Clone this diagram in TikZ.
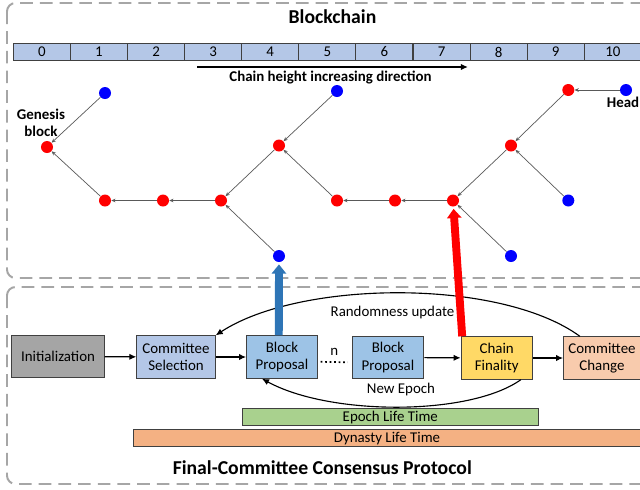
\documentclass[tikz,border=0pt]{standalone}
\usepackage{fontspec}
\setmainfont{Carlito}
\usepackage{tikz}
\usetikzlibrary{arrows.meta}

\definecolor{grau}{HTML}{A5A5A5}
\definecolor{hellblau}{HTML}{B4C7E7}
\definecolor{blau}{HTML}{9DC3E6}
\definecolor{gelb}{HTML}{FFD966}
\definecolor{lachs}{HTML}{F8CBAD}
\definecolor{gruen}{HTML}{A9D18E}
\definecolor{orange}{HTML}{F4B183}
\definecolor{pfeilblau}{HTML}{2E75B6}
\definecolor{randgrau}{HTML}{A6A6A6}
\definecolor{linie}{HTML}{404040}

\tikzset{
  rahmen/.style={draw=randgrau,line width=1.4pt,dash pattern=on 9pt off 5pt,rounded corners=6pt},
  zelle/.style={draw=linie,fill=hellblau,line width=0.8pt,minimum width=1.4275cm,minimum height=0.435cm,inner sep=0pt},
  punkt/.style={circle,fill=#1,inner sep=0pt,minimum size=0.3cm},
  kante/.style={draw=black!65,line width=0.5pt,-{Stealth[length=3pt,width=2.6pt]}},
  kasten/.style={draw=linie,fill=#1,line width=0.7pt,minimum height=1.06cm,inner sep=1pt,align=center,
                 font=\fontsize{10.6}{12.5}\selectfont},
  balken/.style={draw=linie,fill=#1,line width=0.7pt,minimum height=0.42cm,inner sep=0pt},
  pfeil/.style={black,line width=0.8pt,-{Latex[length=5pt,width=4.5pt]}},
  dick/.style={line width=5.6pt,shorten >=1.5pt,-{Triangle[length=6.5pt,width=10pt]}},
  titel/.style={font=\fontsize{14}{16}\selectfont\bfseries},
  fett/.style={font=\fontsize{10.6}{12.3}\selectfont\bfseries,align=center,inner sep=0pt}
}

\begin{document}
\begin{tikzpicture}[x=0.025cm,y=-0.025cm,font=\fontsize{10.6}{12.5}\selectfont]
  \clip (0,0) rectangle (640,489);

  % Rahmen
  \draw[rahmen] (7,3) rectangle (680,278);
  \draw[rahmen] (7,287) rectangle (680,484);
  \node[titel] (bctitel) at (332.5,17) {Blockchain};
  \node[titel] (prtitel) at (322.3,468) {Final-Committee Consensus Protocol};

  % Kettenhoehe
  \foreach \i in {0,...,10}
    \node[zelle] (z\i) at (41.85+57.1*\i,52) {\i};
  \coordinate (hs) at (197,67);
  \coordinate (he) at (468,67);
  \draw[pfeil,line width=1.1pt] (hs) -- (he);
  \node[fett] (hrtext) at (330.5,77.5) {Chain height increasing direction};

  % Bloecke
  \foreach \n/\x/\y/\c in {g/47/147/red, b1/105/93/blue, r1/105/200.5/red, r2/163/200.5/red,
      r3/221/200.5/red, r4/279/145.5/red, b2/337/91/blue, b3/279/256/blue, r5/337/200.5/red,
      r6/395/200.5/red, r7/453/200.5/red, r8/511/145.5/red, r9/568.3/90/red, b4/626/90/blue,
      b5/568.3/200.5/blue, b6/511/256/blue}
    \node[punkt=\c] (\n) at (\x,\y) {};
  \foreach \a/\b in {b1/g, r1/g, r2/r1, r3/r2, r4/r3, b3/r3, b2/r4, r5/r4, r6/r5, r7/r6,
      r8/r7, b6/r7, r9/r8, b5/r8, b4/r9}
    \draw[kante] (\a) -- (\b);
  \node[fett] (genlabel) at (41,123) {Genesis\\block};
  \node[fett] (headlabel) at (623,102) {Head};

  % Protokoll
  \node[kasten=grau,minimum width=2.3cm] (init) at (58,356.5) {Initialization};
  \node[kasten=hellblau,minimum width=1.96cm] (cs) at (176,357) {Committee\\Selection};
  \node[kasten=blau,minimum width=1.77cm] (bp1) at (282,357) {Block\\Proposal};
  \node[kasten=blau,minimum width=1.79cm] (bp2) at (388,357.5) {Block\\Proposal};
  \node[kasten=gelb,minimum width=1.78cm] (cf) at (496.7,358) {Chain\\Finality};
  \node[kasten=lachs,minimum width=1.92cm] (cc) at (602,358) {Committee\\Change};

  \draw[pfeil] (init) -- (cs);
  \draw[pfeil] (cs) -- (bp1);
  \draw[pfeil] (bp2) -- (cf);
  \draw[pfeil] (cf) -- (cc);
  \draw[line width=1.2pt,dotted] ([xshift=0.07cm,yshift=-0.12cm]bp1.east) -- ([xshift=-0.1cm,yshift=-0.12cm]bp2.west)
    node[midway,above=1pt] (nlabel) {n};

  \draw[pfeil] ([xshift=0.42cm]cc.north west) .. controls (500,278) and (300,280) .. (cs.north east);
  \node (rulabel) at (392.5,312.5) {Randomness update};
  \draw[pfeil] ([xshift=-0.3cm]cf.south east) .. controls (470,416) and (330,416) .. ([xshift=-0.5cm]bp1.south);
  \node (nelabel) at (401,390) {New Epoch};

  % Zeitbalken
  \node[balken=gruen,minimum width=7.4cm] (epoch) at (390.3,417.3) {Epoch Life Time};
  \node[balken=orange,minimum width=12.685cm] (dynasty) at (387,438.3) {Dynasty Life Time};

  % dicke Pfeile
  \draw[dick,pfeilblau] ([xshift=-0.08cm]bp1.north) -- (b3);
  \draw[dick,red] ([xshift=0.04cm]cf.north west) -- (r7);
\end{tikzpicture}
\end{document}
